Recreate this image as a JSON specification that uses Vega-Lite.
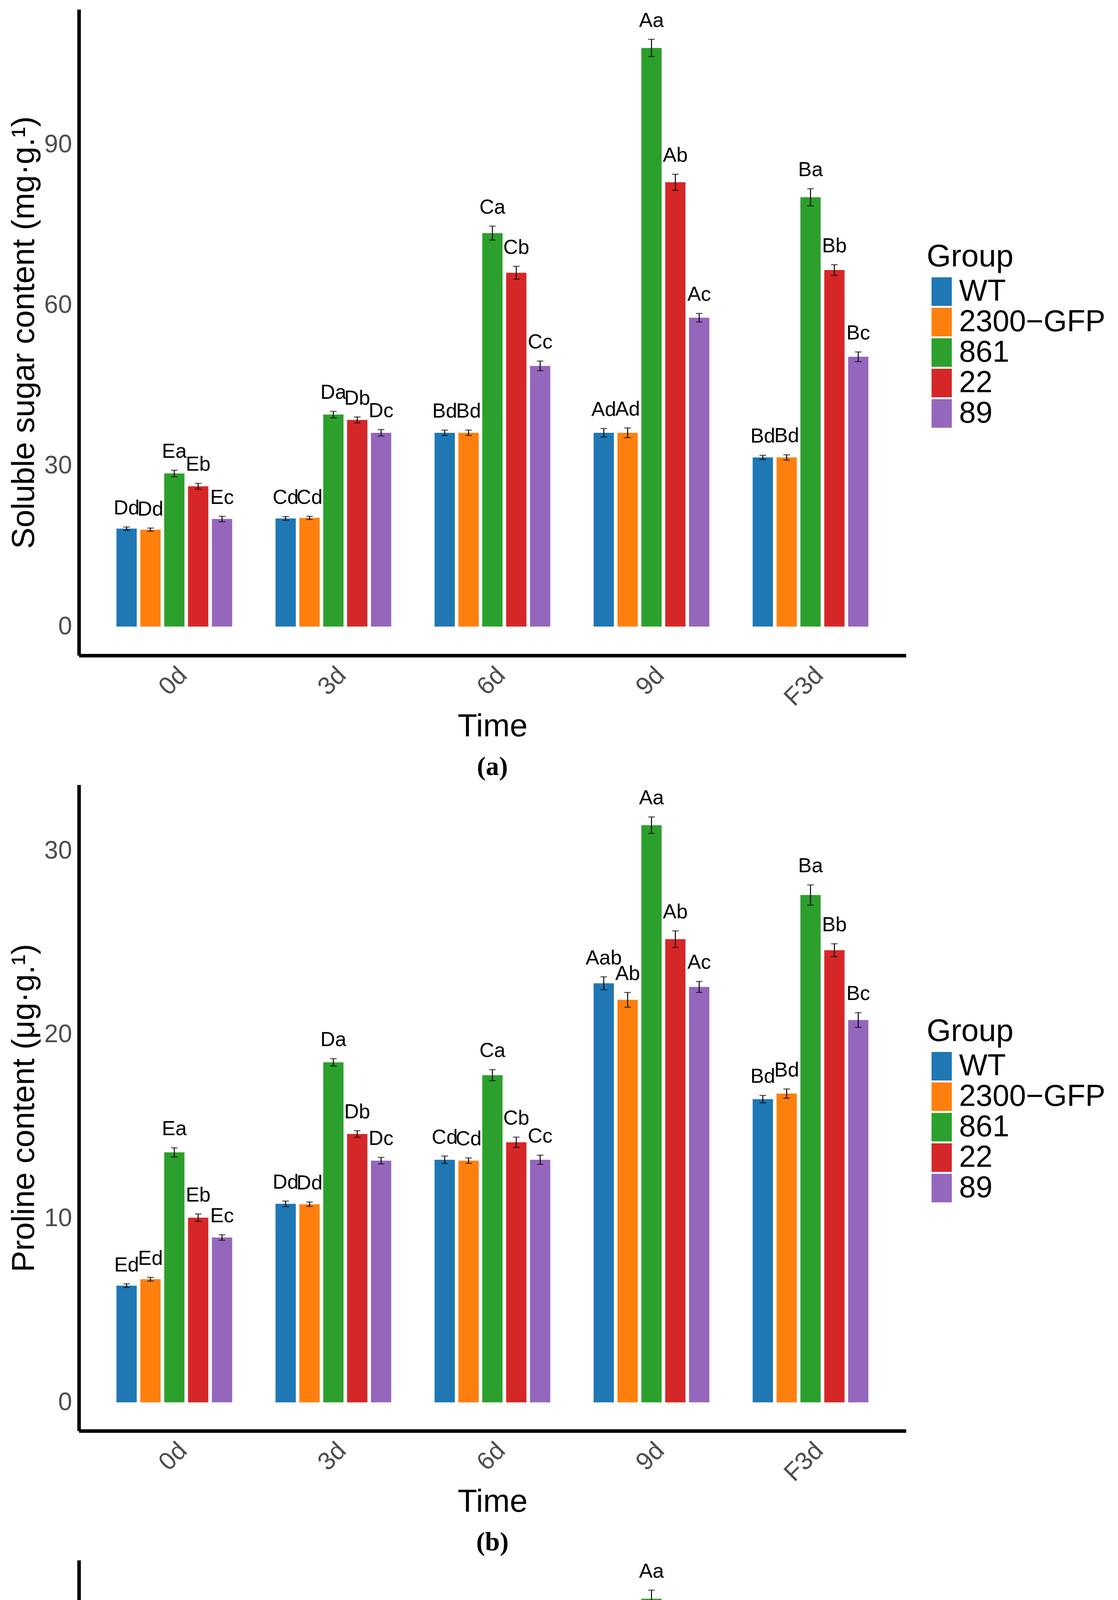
{
  "$schema": "https://vega.github.io/schema/vega-lite/v6.json",
  "description": "Soluble sugar, proline and SOD activity of five lines over time (panels a, b, c).",
  "padding": {"left": 20, "top": 24, "right": 0, "bottom": 0},
  "spacing": 10,
  "datasets": {
    "rows": [
      {"p": "a", "t": "0d", "g": "WT", "m": 18.3, "lo": 18.0, "hi": 18.6, "lab": "Dd"},
      {"p": "a", "t": "0d", "g": "2300-GFP", "m": 18.1, "lo": 17.8, "hi": 18.4, "lab": "Dd"},
      {"p": "a", "t": "0d", "g": "861", "m": 28.6, "lo": 28.0, "hi": 29.2, "lab": "Ea"},
      {"p": "a", "t": "0d", "g": "22", "m": 26.2, "lo": 25.65, "hi": 26.75, "lab": "Eb"},
      {"p": "a", "t": "0d", "g": "89", "m": 20.1, "lo": 19.6, "hi": 20.6, "lab": "Ec"},
      {"p": "a", "t": "3d", "g": "WT", "m": 20.2, "lo": 19.85, "hi": 20.55, "lab": "Cd"},
      {"p": "a", "t": "3d", "g": "2300-GFP", "m": 20.3, "lo": 20.0, "hi": 20.6, "lab": "Cd"},
      {"p": "a", "t": "3d", "g": "861", "m": 39.6, "lo": 39.0, "hi": 40.2, "lab": "Da"},
      {"p": "a", "t": "3d", "g": "22", "m": 38.6, "lo": 38.05, "hi": 39.15, "lab": "Db"},
      {"p": "a", "t": "3d", "g": "89", "m": 36.2, "lo": 35.6, "hi": 36.8, "lab": "Dc"},
      {"p": "a", "t": "6d", "g": "WT", "m": 36.2, "lo": 35.7, "hi": 36.7, "lab": "Bd"},
      {"p": "a", "t": "6d", "g": "2300-GFP", "m": 36.2, "lo": 35.7, "hi": 36.7, "lab": "Bd"},
      {"p": "a", "t": "6d", "g": "861", "m": 73.5, "lo": 72.2, "hi": 74.8, "lab": "Ca"},
      {"p": "a", "t": "6d", "g": "22", "m": 66.1, "lo": 64.9, "hi": 67.3, "lab": "Cb"},
      {"p": "a", "t": "6d", "g": "89", "m": 48.7, "lo": 47.8, "hi": 49.6, "lab": "Cc"},
      {"p": "a", "t": "9d", "g": "WT", "m": 36.2, "lo": 35.4, "hi": 37.0, "lab": "Ad"},
      {"p": "a", "t": "9d", "g": "2300-GFP", "m": 36.2, "lo": 35.3, "hi": 37.1, "lab": "Ad"},
      {"p": "a", "t": "9d", "g": "861", "m": 108.1, "lo": 106.5, "hi": 109.7, "lab": "Aa"},
      {"p": "a", "t": "9d", "g": "22", "m": 83.0, "lo": 81.5, "hi": 84.5, "lab": "Ab"},
      {"p": "a", "t": "9d", "g": "89", "m": 57.7, "lo": 56.9, "hi": 58.5, "lab": "Ac"},
      {"p": "a", "t": "F3d", "g": "WT", "m": 31.6, "lo": 31.2, "hi": 32.0, "lab": "Bd"},
      {"p": "a", "t": "F3d", "g": "2300-GFP", "m": 31.6, "lo": 31.1, "hi": 32.1, "lab": "Bd"},
      {"p": "a", "t": "F3d", "g": "861", "m": 80.2, "lo": 78.6, "hi": 81.8, "lab": "Ba"},
      {"p": "a", "t": "F3d", "g": "22", "m": 66.6, "lo": 65.6, "hi": 67.6, "lab": "Bb"},
      {"p": "a", "t": "F3d", "g": "89", "m": 50.4, "lo": 49.5, "hi": 51.3, "lab": "Bc"},

      {"p": "b", "t": "0d", "g": "WT", "m": 6.35, "lo": 6.25, "hi": 6.45, "lab": "Ed"},
      {"p": "b", "t": "0d", "g": "2300-GFP", "m": 6.7, "lo": 6.6, "hi": 6.8, "lab": "Ed"},
      {"p": "b", "t": "0d", "g": "861", "m": 13.6, "lo": 13.35, "hi": 13.85, "lab": "Ea"},
      {"p": "b", "t": "0d", "g": "22", "m": 10.05, "lo": 9.85, "hi": 10.25, "lab": "Eb"},
      {"p": "b", "t": "0d", "g": "89", "m": 8.97, "lo": 8.82, "hi": 9.12, "lab": "Ec"},
      {"p": "b", "t": "3d", "g": "WT", "m": 10.8, "lo": 10.65, "hi": 10.95, "lab": "Dd"},
      {"p": "b", "t": "3d", "g": "2300-GFP", "m": 10.78, "lo": 10.66, "hi": 10.9, "lab": "Dd"},
      {"p": "b", "t": "3d", "g": "861", "m": 18.5, "lo": 18.3, "hi": 18.7, "lab": "Da"},
      {"p": "b", "t": "3d", "g": "22", "m": 14.6, "lo": 14.42, "hi": 14.78, "lab": "Db"},
      {"p": "b", "t": "3d", "g": "89", "m": 13.15, "lo": 12.97, "hi": 13.33, "lab": "Dc"},
      {"p": "b", "t": "6d", "g": "WT", "m": 13.2, "lo": 13.0, "hi": 13.4, "lab": "Cd"},
      {"p": "b", "t": "6d", "g": "2300-GFP", "m": 13.15, "lo": 13.0, "hi": 13.3, "lab": "Cd"},
      {"p": "b", "t": "6d", "g": "861", "m": 17.8, "lo": 17.5, "hi": 18.1, "lab": "Ca"},
      {"p": "b", "t": "6d", "g": "22", "m": 14.15, "lo": 13.87, "hi": 14.43, "lab": "Cb"},
      {"p": "b", "t": "6d", "g": "89", "m": 13.2, "lo": 12.95, "hi": 13.45, "lab": "Cc"},
      {"p": "b", "t": "9d", "g": "WT", "m": 22.8, "lo": 22.45, "hi": 23.15, "lab": "Aab"},
      {"p": "b", "t": "9d", "g": "2300-GFP", "m": 21.9, "lo": 21.5, "hi": 22.3, "lab": "Ab"},
      {"p": "b", "t": "9d", "g": "861", "m": 31.4, "lo": 30.95, "hi": 31.85, "lab": "Aa"},
      {"p": "b", "t": "9d", "g": "22", "m": 25.2, "lo": 24.75, "hi": 25.65, "lab": "Ab"},
      {"p": "b", "t": "9d", "g": "89", "m": 22.6, "lo": 22.3, "hi": 22.9, "lab": "Ac"},
      {"p": "b", "t": "F3d", "g": "WT", "m": 16.5, "lo": 16.3, "hi": 16.7, "lab": "Bd"},
      {"p": "b", "t": "F3d", "g": "2300-GFP", "m": 16.8, "lo": 16.55, "hi": 17.05, "lab": "Bd"},
      {"p": "b", "t": "F3d", "g": "861", "m": 27.6, "lo": 27.05, "hi": 28.15, "lab": "Ba"},
      {"p": "b", "t": "F3d", "g": "22", "m": 24.6, "lo": 24.25, "hi": 24.95, "lab": "Bb"},
      {"p": "b", "t": "F3d", "g": "89", "m": 20.8, "lo": 20.4, "hi": 21.2, "lab": "Bc"},

      {"p": "c", "t": "0d", "g": "WT", "m": 18.5, "lo": 18.25, "hi": 18.75, "lab": "Ea"},
      {"p": "c", "t": "0d", "g": "2300-GFP", "m": 18.65, "lo": 18.35, "hi": 18.95, "lab": "Da"},
      {"p": "c", "t": "0d", "g": "861", "m": 20.1, "lo": 19.7, "hi": 20.5, "lab": "Ea"},
      {"p": "c", "t": "0d", "g": "22", "m": 19.55, "lo": 19.1, "hi": 20.0, "lab": "Ea"},
      {"p": "c", "t": "0d", "g": "89", "m": 19.2, "lo": 18.8, "hi": 19.6, "lab": "Ea"},
      {"p": "c", "t": "3d", "g": "WT", "m": 22.3, "lo": 22.0, "hi": 22.6, "lab": "Dbc"},
      {"p": "c", "t": "3d", "g": "2300-GFP", "m": 21.65, "lo": 21.4, "hi": 21.9, "lab": "Dc"},
      {"p": "c", "t": "3d", "g": "861", "m": 28.5, "lo": 28.1, "hi": 28.9, "lab": "Da"},
      {"p": "c", "t": "3d", "g": "22", "m": 24.3, "lo": 23.95, "hi": 24.65, "lab": "Db"},
      {"p": "c", "t": "3d", "g": "89", "m": 24.05, "lo": 23.7, "hi": 24.4, "lab": "Db"},
      {"p": "c", "t": "6d", "g": "WT", "m": 30.2, "lo": 29.7, "hi": 30.7, "lab": "Cd"},
      {"p": "c", "t": "6d", "g": "2300-GFP", "m": 29.85, "lo": 29.4, "hi": 30.3, "lab": "Cd"},
      {"p": "c", "t": "6d", "g": "861", "m": 42.4, "lo": 41.6, "hi": 43.2, "lab": "Ca"},
      {"p": "c", "t": "6d", "g": "22", "m": 37.7, "lo": 36.95, "hi": 38.45, "lab": "Cb"},
      {"p": "c", "t": "6d", "g": "89", "m": 33.3, "lo": 32.75, "hi": 33.85, "lab": "Cc"},
      {"p": "c", "t": "9d", "g": "WT", "m": 41.7, "lo": 40.9, "hi": 42.5, "lab": "Ad"},
      {"p": "c", "t": "9d", "g": "2300-GFP", "m": 41.7, "lo": 40.8, "hi": 42.6, "lab": "Ad"},
      {"p": "c", "t": "9d", "g": "861", "m": 64.6, "lo": 63.65, "hi": 65.55, "lab": "Aa"},
      {"p": "c", "t": "9d", "g": "22", "m": 55.6, "lo": 54.6, "hi": 56.6, "lab": "Ab"},
      {"p": "c", "t": "9d", "g": "89", "m": 50.4, "lo": 49.75, "hi": 51.05, "lab": "Ac"},
      {"p": "c", "t": "F3d", "g": "WT", "m": 33.2, "lo": 32.75, "hi": 33.65, "lab": "Bd"},
      {"p": "c", "t": "F3d", "g": "2300-GFP", "m": 32.95, "lo": 32.4, "hi": 33.5, "lab": "Bd"},
      {"p": "c", "t": "F3d", "g": "861", "m": 57.6, "lo": 56.5, "hi": 58.7, "lab": "Ba"},
      {"p": "c", "t": "F3d", "g": "22", "m": 50.2, "lo": 49.45, "hi": 50.95, "lab": "Bb"},
      {"p": "c", "t": "F3d", "g": "89", "m": 41.7, "lo": 40.9, "hi": 42.5, "lab": "Bc"}
    ]
  },
  "data": {"name": "rows"},
  "vconcat": [
    {
      "title": {"text": "(a)"},
      "width": 2118,
      "height": 1654,
      "transform": [{"filter": "datum.p === 'a'"}],
      "encoding": {
        "x": {"field": "t", "type": "nominal", "sort": ["0d", "3d", "6d", "9d", "F3d"],
              "scale": {"paddingInner": 0.25, "paddingOuter": 0.225}, "title": "Time"},
        "xOffset": {"field": "g", "type": "nominal",
                    "scale": {"domain": ["WT", "2300-GFP", "861", "22", "89"], "paddingInner": 0.15, "paddingOuter": 0.075}}
      },
      "layer": [
        {
          "mark": "bar",
          "encoding": {
            "y": {"field": "m", "type": "quantitative", "title": "Soluble sugar content (mg·g.¹)",
                  "scale": {"domain": [-5.4, 115.3], "nice": false, "zero": false},
                  "axis": {"values": [0, 30, 60, 90]}},
            "y2": {"datum": 0},
            "color": {"field": "g", "type": "nominal", "title": "Group",
                      "scale": {"domain": ["WT", "2300-GFP", "861", "22", "89"],
                                "range": ["#1f77b4", "#ff7f0e", "#2ca02c", "#d62728", "#9467bd"]},
                      "legend": {"orient": "none", "legendX": 2171, "legendY": 595,
                                 "labelExpr": "replace(datum.label, '-', '\u2212')"}}
          }
        },
        {"mark": {"type": "rule", "color": "black", "strokeWidth": 2.5},
         "encoding": {"y": {"field": "lo", "type": "quantitative"}, "y2": {"field": "hi"}}},
        {"mark": {"type": "tick", "color": "black", "thickness": 2.5, "size": 17},
         "encoding": {"y": {"field": "lo", "type": "quantitative"}}},
        {"mark": {"type": "tick", "color": "black", "thickness": 2.5, "size": 17},
         "encoding": {"y": {"field": "hi", "type": "quantitative"}}},
        {"mark": {"type": "text", "baseline": "alphabetic", "dy": -32, "fontSize": 52, "color": "black"},
         "encoding": {"y": {"field": "hi", "type": "quantitative"}, "text": {"field": "lab"}}}
      ]
    },
    {
      "title": {"text": "(b)"},
      "width": 2118,
      "height": 1654,
      "transform": [{"filter": "datum.p === 'b'"}],
      "encoding": {
        "x": {"field": "t", "type": "nominal", "sort": ["0d", "3d", "6d", "9d", "F3d"],
              "scale": {"paddingInner": 0.25, "paddingOuter": 0.225}, "title": "Time"},
        "xOffset": {"field": "g", "type": "nominal",
                    "scale": {"domain": ["WT", "2300-GFP", "861", "22", "89"], "paddingInner": 0.15, "paddingOuter": 0.075}}
      },
      "layer": [
        {
          "mark": "bar",
          "encoding": {
            "y": {"field": "m", "type": "quantitative", "title": "Proline content (μg·g.¹)",
                  "scale": {"domain": [-1.55, 33.6], "nice": false, "zero": false},
                  "axis": {"values": [0, 10, 20, 30]}},
            "y2": {"datum": 0},
            "color": {"field": "g", "type": "nominal", "title": "Group",
                      "scale": {"domain": ["WT", "2300-GFP", "861", "22", "89"],
                                "range": ["#1f77b4", "#ff7f0e", "#2ca02c", "#d62728", "#9467bd"]},
                      "legend": {"orient": "none", "legendX": 2171, "legendY": 593,
                                 "labelExpr": "replace(datum.label, '-', '\u2212')"}}
          }
        },
        {"mark": {"type": "rule", "color": "black", "strokeWidth": 2.5},
         "encoding": {"y": {"field": "lo", "type": "quantitative"}, "y2": {"field": "hi"}}},
        {"mark": {"type": "tick", "color": "black", "thickness": 2.5, "size": 17},
         "encoding": {"y": {"field": "lo", "type": "quantitative"}}},
        {"mark": {"type": "tick", "color": "black", "thickness": 2.5, "size": 17},
         "encoding": {"y": {"field": "hi", "type": "quantitative"}}},
        {"mark": {"type": "text", "baseline": "alphabetic", "dy": -32, "fontSize": 52, "color": "black"},
         "encoding": {"y": {"field": "hi", "type": "quantitative"}, "text": {"field": "lab"}}}
      ]
    },
    {
      "title": {"text": "(c)"},
      "width": 2118,
      "height": 1656,
      "transform": [{"filter": "datum.p === 'c'"}],
      "encoding": {
        "x": {"field": "t", "type": "nominal", "sort": ["0d", "3d", "6d", "9d", "F3d"],
              "scale": {"paddingInner": 0.25, "paddingOuter": 0.225}, "title": "Time"},
        "xOffset": {"field": "g", "type": "nominal",
                    "scale": {"domain": ["WT", "2300-GFP", "861", "22", "89"], "paddingInner": 0.15, "paddingOuter": 0.075}}
      },
      "layer": [
        {
          "mark": "bar",
          "encoding": {
            "y": {"field": "m", "type": "quantitative", "title": "SOD activity (U·g.¹·min.¹)",
                  "scale": {"domain": [-3.27, 68.9], "nice": false, "zero": false},
                  "axis": {"values": [0, 20, 40, 60]}},
            "y2": {"datum": 0},
            "color": {"field": "g", "type": "nominal", "title": "Group",
                      "scale": {"domain": ["WT", "2300-GFP", "861", "22", "89"],
                                "range": ["#1f77b4", "#ff7f0e", "#2ca02c", "#d62728", "#9467bd"]},
                      "legend": {"orient": "none", "legendX": 2171, "legendY": 593,
                                 "labelExpr": "replace(datum.label, '-', '\u2212')"}}
          }
        },
        {"mark": {"type": "rule", "color": "black", "strokeWidth": 2.5},
         "encoding": {"y": {"field": "lo", "type": "quantitative"}, "y2": {"field": "hi"}}},
        {"mark": {"type": "tick", "color": "black", "thickness": 2.5, "size": 17},
         "encoding": {"y": {"field": "lo", "type": "quantitative"}}},
        {"mark": {"type": "tick", "color": "black", "thickness": 2.5, "size": 17},
         "encoding": {"y": {"field": "hi", "type": "quantitative"}}},
        {"mark": {"type": "text", "baseline": "alphabetic", "dy": -32, "fontSize": 52, "color": "black"},
         "encoding": {"y": {"field": "hi", "type": "quantitative"}, "text": {"field": "lab"}}}
      ]
    }
  ],
  "resolve": {"scale": {"color": "independent"}},
  "config": {
    "font": "Liberation Sans",
    "view": {"stroke": null},
    "bar": {"strokeWidth": 0},
    "axis": {
      "grid": false,
      "ticks": false,
      "tickSize": 0,
      "domainColor": "black",
      "domainWidth": 9,
      "labelFont": "Liberation Sans",
      "labelFontSize": 64,
      "labelColor": "#4d4d4d",
      "labelPadding": 18,
      "titleFont": "Liberation Sans",
      "titleFontSize": 82,
      "titleFontWeight": "normal",
      "titleColor": "black"
    },
    "axisX": {"labelAngle": -45, "labelAlign": "right", "labelBaseline": "top", "titlePadding": 0},
    "axisY": {"titlePadding": 9},
    "legend": {
      "padding": 0,
      "titleFont": "Liberation Sans",
      "titleFontSize": 80,
      "titleFontWeight": "normal",
      "titleColor": "black",
      "titlePadding": 9,
      "titleLimit": 1000,
      "labelFont": "Liberation Sans",
      "labelFontSize": 77,
      "labelColor": "black",
      "labelLimit": 1000,
      "labelOffset": 6,
      "rowPadding": 0,
      "symbolType": "M-0.712,-1H0.712V1H-0.712Z",
      "symbolSize": 5329,
      "symbolStrokeWidth": 0,
      "symbolOpacity": 1
    },
    "title": {
      "orient": "bottom",
      "anchor": "middle",
      "font": "Liberation Serif",
      "fontSize": 68,
      "fontWeight": "bold",
      "color": "black",
      "offset": 30
    }
  }
}
